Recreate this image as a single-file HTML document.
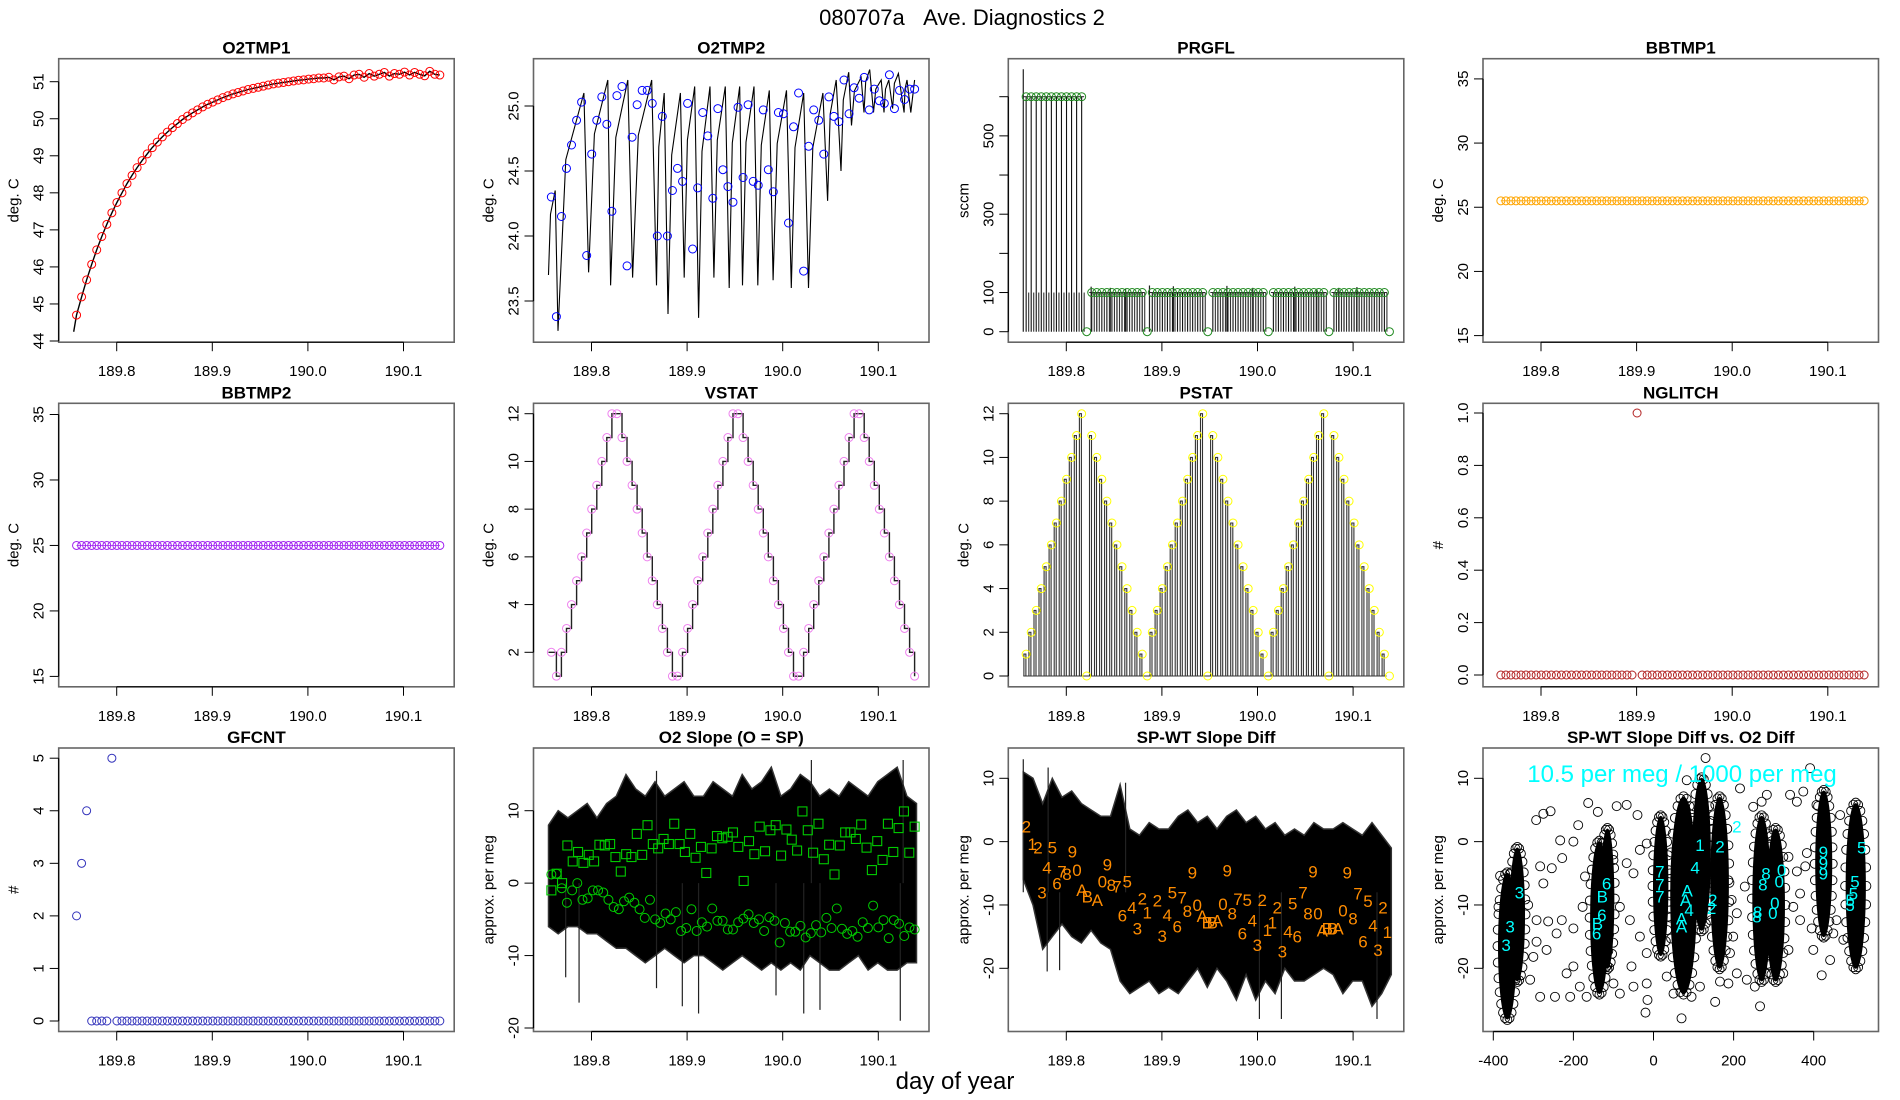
<!DOCTYPE html>
<html><head><meta charset="utf-8"><title>080707a Ave. Diagnostics 2</title>
<style>
html,body{margin:0;padding:0;background:#fff;}
svg{display:block;font-family:"Liberation Sans",Arial,sans-serif;}
</style></head>
<body>
<svg id="chart" width="1900" height="1100" viewBox="0 0 1900 1100" xmlns="http://www.w3.org/2000/svg">
<rect x="0" y="0" width="1900" height="1100" fill="#fff"/>
<text x="962" y="25" font-size="22" text-anchor="middle">080707a&#160;&#160;&#160;Ave. Diagnostics 2</text>
<text x="955" y="1089" font-size="24" text-anchor="middle">day of year</text>
</svg>
<script>
// ---------- shared time axis ----------
const T0 = 189.758, T1 = 190.138, NPTS = 73;
const timeTicks = [189.8, 189.9, 190.0, 190.1];
const timeTickLabels = ["189.8", "189.9", "190.0", "190.1"];

// ---------- O2TMP1 ----------
const o2tmp1Values = [44.70,45.19,45.65,46.07,46.46,46.82,47.15,47.46,47.74,48.00,48.25,48.47,48.68,48.87,49.05,49.22,49.37,49.51,49.64,49.76,49.87,49.98,50.07,50.16,50.24,50.32,50.39,50.45,50.51,50.57,50.62,50.67,50.71,50.75,50.79,50.82,50.85,50.88,50.91,50.94,50.96,50.98,51.00,51.02,51.04,51.05,51.07,51.08,51.10,51.10,51.12,51.05,51.13,51.15,51.08,51.18,51.20,51.12,51.22,51.15,51.20,51.25,51.15,51.22,51.20,51.26,51.18,51.25,51.20,51.16,51.28,51.20,51.18];
const o2tmp1Ticks = [44,45,46,47,48,49,50,51];

// ---------- O2TMP2 ----------
const o2tmp2Values = [24.30,23.38,24.15,24.52,24.70,24.89,25.03,23.85,24.63,24.89,25.07,24.86,24.19,25.08,25.15,23.77,24.76,25.01,25.12,25.12,25.02,24.00,24.92,24.00,24.35,24.52,24.42,25.02,23.90,24.37,24.95,24.77,24.29,24.98,24.51,24.38,24.26,24.99,24.45,25.01,24.42,24.39,24.97,24.51,24.34,24.95,24.94,24.10,24.84,25.10,23.73,24.69,24.97,24.89,24.63,25.07,24.92,24.88,25.20,24.94,25.14,25.06,25.22,24.97,25.13,25.04,25.02,25.24,24.98,25.12,25.05,25.13,25.13];
const o2tmp2PeakT = [189.762,189.792,189.817,189.838,189.863,189.876,189.893,189.908,189.924,189.940,189.955,189.970,189.986,190.004,190.022,190.042,190.056,190.069,190.082,190.091,190.103,190.111,190.121,190.130];
const o2tmp2PeakV = [24.35,25.10,25.20,25.20,25.20,25.10,25.10,25.15,25.15,25.15,25.15,25.15,25.12,25.12,25.10,25.10,25.20,25.26,25.22,25.28,25.20,25.20,25.25,25.20];
const o2tmp2TroughT = [189.765,189.797,189.820,189.843,189.868,189.880,189.897,189.912,189.928,189.944,189.958,189.974,189.990,190.009,190.027,190.047,190.061,190.072,190.085,190.095,190.106,190.115,190.127,190.134];
const o2tmp2TroughV = [23.27,23.72,23.62,23.68,23.62,23.40,23.68,23.37,23.68,23.60,23.62,23.62,23.66,23.60,23.60,24.27,24.50,24.85,24.95,24.95,24.95,24.98,24.95,24.95];
const o2tmp2Ticks = [23.5,24.0,24.5,25.0];
const o2tmp2TickLabels = ["23.5","24.0","24.5","25.0"];

// ---------- PRGFL ----------
const prgflValues = [600,600,600,600,600,600,600,600,600,600,600,600,0,100,100,100,100,100,100,100,100,100,100,100,0,100,100,100,100,100,100,100,100,100,100,100,0,100,100,100,100,100,100,100,100,100,100,100,0,100,100,100,100,100,100,100,100,100,100,100,0,100,100,100,100,100,100,100,100,100,100,100,0];
const prgflSpikeT = [189.755,189.826,189.846,189.862,189.887,189.912,189.968,189.995,190.039,190.062,190.085,190.104];
const prgflSpikeV = [670,115,112,110,118,116,117,112,115,110,112,114];
const prgflTicks = [0,100,200,300,400,500,600];
const prgflTickLabels = ["0","100","","300","","500",""];

// ---------- BBTMP1 / BBTMP2 ----------
const bbtmp1Values = new Array(NPTS).fill(25.5);
const bbtmp2Values = new Array(NPTS).fill(25.0);
const bbTicks = [15,20,25,30,35];

// ---------- VSTAT ----------
const vstatValues = [2,1,2,3,4,5,6,7,8,9,10,11,12,12,11,10,9,8,7,6,5,4,3,2,1,1,2,3,4,5,6,7,8,9,10,11,12,12,11,10,9,8,7,6,5,4,3,2,1,1,2,3,4,5,6,7,8,9,10,11,12,12,11,10,9,8,7,6,5,4,3,2,1];
const vstatTicks = [2,4,6,8,10,12];

// ---------- PSTAT ----------
const pstatValues = [1,2,3,4,5,6,7,8,9,10,11,12,0,11,10,9,8,7,6,5,4,3,2,1,0,2,3,4,5,6,7,8,9,10,11,12,0,11,10,9,8,7,6,5,4,3,2,1,0,2,3,4,5,6,7,8,9,10,11,12,0,11,10,9,8,7,6,5,4,3,2,1,0];
const pstatTicks = [0,2,4,6,8,10,12];

// ---------- NGLITCH ----------
const nglitchValues = [0,0,0,0,0,0,0,0,0,0,0,0,0,0,0,0,0,0,0,0,0,0,0,0,0,0,0,1,0,0,0,0,0,0,0,0,0,0,0,0,0,0,0,0,0,0,0,0,0,0,0,0,0,0,0,0,0,0,0,0,0,0,0,0,0,0,0,0,0,0,0,0,0];
const nglitchTicks = [0,0.2,0.4,0.6,0.8,1.0];
const nglitchTickLabels = ["0.0","0.2","0.4","0.6","0.8","1.0"];

// ---------- GFCNT ----------
const gfcntValues = [2,3,4,0,0,0,0,5,0,0,0,0,0,0,0,0,0,0,0,0,0,0,0,0,0,0,0,0,0,0,0,0,0,0,0,0,0,0,0,0,0,0,0,0,0,0,0,0,0,0,0,0,0,0,0,0,0,0,0,0,0,0,0,0,0,0,0,0,0,0,0,0,0];
const gfcntTicks = [0,1,2,3,4,5];

// ---------- O2 Slope ----------
const bandT0 = 189.755, bandT1 = 190.14;
const o2slopeUpper = [8,10,9,10,11,9,11,12,15,13,12,14,12,13,14,12,12,14,13,12,15,13,14,16,12,13,15,14,12,13,12,14,13,12,14,15,16,12,11];
const o2slopeLower = [-6,-7,-6,-6,-7,-7,-8,-9,-9,-10,-11,-10,-9,-10,-11,-10,-10,-11,-12,-11,-10,-11,-12,-11,-12,-11,-12,-10,-11,-12,-12,-11,-10,-12,-11,-12,-12,-11,-11];
const o2slopeSpikeT = [189.773,189.787,189.868,189.895,189.912,190.022,190.039,190.123,189.993,190.030,190.126,189.868];
const o2slopeSpikeV = [-13,-16.5,-14.5,-17,-18,-18,-17.5,-19,-15.5,17,17,15.5];
const o2slopeSquares = [-1,1.3,0,5.2,3,4.3,2.8,3.9,3,5.3,5.2,5.4,3.6,1.6,4,3.6,6.8,3.9,8,5.4,4.8,6.1,5.4,8.2,5.4,4.3,6.8,3.5,5,1.4,4.8,6.5,6.2,6.4,7,5,0.3,5.8,4,7.8,4.4,7.3,8,3.8,7.4,6,4.5,9.9,7.3,4.2,8.2,3.3,5.3,1.2,5.2,7,7,6.1,8.1,4.9,1.8,5.8,3.2,8.2,4.3,7.6,9.9,4.2,7.8];
const o2slopeCircles = [1.2,1.3,-0.7,-2.7,-1,0,-2.3,-2.1,-1,-1,-1.3,-2.3,-3.3,-3.6,-2.5,-2,-2.7,-3.6,-4.8,-2.3,-5,-5.5,-4.2,-5,-4,-6.6,-6.2,-3.6,-6.6,-5.4,-6,-3.5,-5.2,-5.2,-6.4,-6.4,-5.4,-4.9,-4.3,-5.5,-5,-6.6,-4.7,-5.2,-8.2,-5.5,-6.7,-6.7,-5.9,-7.5,-6.9,-5.8,-6.8,-4.8,-6.2,-3.5,-6.3,-7,-6.6,-7.4,-5.4,-6.2,-3.1,-6.1,-5.1,-7.6,-5.1,-5.6,-7.3,-6.1,-6.4];
const slopeTicks = [-20,-10,0,10];

// ---------- SP-WT Slope Diff ----------
const spwtUpper = [11,10,6,10,7,8,6,5,4,4,9,2,1,3,2,2,4,5,3,4,2,4,5,3,4,2,3,1,2,1,3,2,2,3,2,1,3,1,-1];
const spwtLower = [-6,-10,-17,-15,-13,-15,-16,-14,-16,-17,-22,-24,-23,-22,-24,-23,-24,-22,-20,-23,-20,-22,-25,-21,-25,-22,-24,-20,-22,-22,-21,-20,-21,-24,-22,-22,-26,-24,-21];
const spwtSpikeT = [189.755,189.780,189.793,189.781,189.862,190.002,190.025,190.125];
const spwtSpikeV = [13,-20.5,-20.3,11.7,9.3,-28,-28,-28];
const spwtLabelT = [189.7582,189.7644,189.7704,189.7854,189.7798,189.7745,189.7902,189.7955,189.8007,189.8063,189.8112,189.8164,189.822,189.8324,189.8429,189.8377,189.8471,189.853,189.8638,189.8586,189.8687,189.8743,189.8795,189.8847,189.8952,189.9004,189.9056,189.9109,189.9161,189.9213,189.9266,189.9318,189.937,189.9423,189.9475,189.9527,189.958,189.9639,189.9684,189.9736,189.9796,189.9841,189.9893,189.9946,189.9998,190.005,190.0103,190.0155,190.0207,190.026,190.0368,190.0319,190.0416,190.0476,190.058,190.0528,190.0633,190.0678,190.073,190.0782,190.0842,190.0894,190.0939,190.0999,190.1051,190.1103,190.1156,190.1208,190.126,190.1312,190.1358];
const spwtLabelV = [2.37,-0.37,-0.9,-0.9,-4.06,-8.0,-6.58,-4.73,-5.1,-1.58,-4.48,-7.63,-8.69,-9.21,-3.58,-6.31,-6.84,-7.1,-6.31,-11.69,-10.43,-13.69,-8.95,-11.22,-9.32,-14.9,-11.58,-8.05,-13.43,-8.79,-10.95,-4.9,-10.0,-11.74,-12.74,-12.74,-12.48,-9.84,-4.58,-11.32,-9.05,-14.48,-9.21,-12.48,-16.32,-9.21,-13.95,-12.74,-10.43,-17.38,-9.74,-14.22,-15.0,-8.05,-4.74,-11.32,-11.32,-14.06,-13.69,-13.69,-13.69,-10.9,-4.9,-12.11,-8.16,-15.8,-9.37,-13.27,-17.11,-10.37,-14.27];
const spwtLabelText = ["2","1","2","5","4","3","6","7","8","9","0","A","B","A","9","0","8","7","5","6","4","3","2","1","2","3","4","5","6","7","8","9","0","A","B","B","A","0","9","8","7","6","5","4","3","2","1","1","2","3","5","4","6","7","9","8","0","A","B","B","A","0","9","8","7","6","5","4","3","2","1"];

// ---------- Scatter: SP-WT Slope Diff vs O2 Diff ----------
const scatterXTicks = [-400,-200,0,200,400];
const clusterX = [-365,-340,-135,-115,18,75,120,165,270,305,425,505];
const clusterTop = [-5,-1,0,2,4,7,10,7,4,2,8,6];
const clusterBottom = [-28,-22,-24,-20,-18,-24,-14,-20,-22,-22,-15,-20];
const clusterHalfWidth = [22,18,22,16,18,32,22,22,22,22,20,24];
const sparseX = [-293,-275,-257,-163,-139,-92,-67,-40,-188,-233,-200,-228,-283,-254,-275,-383,-387,-313,-292,-263,-229,-200,-267,-242,-292,-300,-308,-283,-246,-208,-184,-217,-200,-167,-100,-84,-50,-17,-20,-15,-55,-17,-34,-59,-84,-50,-17,-34,-67,-171,-177,-100,130,83,216,249,270,283,341,358,391,374,407,466,337,358,379,383,366,349,366,399,337,441,420,449,324,266,253,154,166,187,208,233,191,199,208,228,187,195,116,70,95,50,33,474,457,395];
const sparseY = [3.4,4.4,4.8,6.1,4.7,5.6,5.8,4.2,2.6,0.2,0,-2.6,-3.9,-4.2,-6.6,-5.4,-10.3,-10,-12.4,-12.6,-12.4,-13.7,-17.1,-14.5,-15.8,-18.2,-21.8,-24.5,-24.5,-24.5,-22.9,-20.8,-19.7,-24.5,-22.4,-24,-22.9,-22.4,-27,-25,-19.7,-17.6,-15,-12.4,-10.3,-5,-0.3,-1.3,-3.4,-5.5,-10.3,-2.9,13.2,9.7,8.4,5.5,6.3,7.4,7.4,6.3,11.6,7.9,5.8,4.2,-2.4,-4.7,-3.9,-1.8,-8.2,-10.3,-12.4,-17.1,-17.1,-18.7,-21.1,-14.5,-20.8,-26,-22.9,-25.3,-22.1,-22.4,-20.8,-21.8,-17.6,-15,-11.3,-7.1,-6.1,-9.2,-22.9,-27.9,-24.5,-24,-21.3,-15.5,-12.4,-13.7];
const cyanX = [-335,-358,-368,-117,-128,-129,-140,-142,16,16,16,84,80,89,70,70,116,104,166,148,145,208,281,273,320,314,303,298,260,258,424,424,424,520,503,499,491,491];
const cyanY = [-8.0,-13.4,-16.3,-6.6,-8.7,-11.6,-12.9,-14.5,-4.7,-6.8,-8.7,-7.7,-9.2,-10.8,-12.1,-13.4,-0.5,-4.1,-0.8,-9.2,-10.5,2.4,-5.0,-6.8,-4.5,-6.3,-9.7,-11.3,-11.1,-11.8,-1.6,-3.4,-5.0,-0.9,-6.3,-8.2,-9.2,-10.0];
const cyanText = ["3","3","3","6","B","6","B","6","7","7","7","A","A","4","A","A","1","4","2","2","2","2","8","8","0","0","0","0","8","8","9","9","9","5","5","5","5","5"];

// ---------- layout ----------
const NS = "http://www.w3.org/2000/svg";
const svg = document.getElementById("chart");
const COLS = [58.7, 533.5, 1008.3, 1483];
const ROWS = [58.7, 403.3, 748];
const BW = 395.5, BH = 283.5;

function el(tag, attrs, parent, name) {
  const e = document.createElementNS(NS, tag);
  for (const k in attrs) e.setAttribute(k, attrs[k]);
  
  
  (parent || svg).appendChild(e);
  return e;
}
function timeOf(i, n) { return T0 + i * (T1 - T0) / ((n || NPTS) - 1); }

function makePanel(id, col, row, title, ytitle, v1, p1, v2, p2) {
  const L = COLS[col], T = ROWS[row];
  const g = el('g', {}, svg, id + '-panel');
  const xs = t => L + 58 + (t - 189.8) * 956;
  const ys = v => p1 + (v - v1) * (p2 - p1) / (v2 - v1);
  el('rect', {x: L, y: T, width: BW, height: BH, fill: 'none', stroke: '#666', 'stroke-width': 1.6}, g, id + '-plot-frame');
  const tt = el('text', {x: L + BW / 2, y: T - 5, 'font-size': 17, 'font-weight': 'bold', 'text-anchor': 'middle'}, g, id + '-title');
  tt.textContent = title;
  const yt = el('text', {x: 0, y: 0, 'font-size': 15, 'text-anchor': 'middle', transform: `translate(${L - 40},${T + BH / 2}) rotate(-90)`}, g, id + '-y-axis-title');
  yt.textContent = ytitle;
  const plot = el('g', {}, g, id + '-plot-area');
  return {g, plot, L, T, xs, ys};
}
function xAxis(P, ticks, labels, xs) {
  const y0 = P.T + BH;
  const ax = el('g', {}, P.g, 'x-axis');
  el('line', {x1: xs(ticks[0]), x2: xs(ticks[ticks.length - 1]), y1: y0, y2: y0, stroke: '#000', 'stroke-width': 1.2}, ax, 'x-axis-line');
  ticks.forEach((t, i) => {
    el('line', {x1: xs(t), x2: xs(t), y1: y0, y2: y0 + 9, stroke: '#000', 'stroke-width': 1}, ax, 'x-tick');
    const tx = el('text', {x: xs(t), y: y0 + 34, 'font-size': 15, 'text-anchor': 'middle'}, ax, 'x-tick-label');
    tx.textContent = labels[i];
  });
}
function yAxis(P, ticks, labels) {
  const x0 = P.L;
  const ax = el('g', {}, P.g, 'y-axis');
  el('line', {x1: x0, x2: x0, y1: P.ys(ticks[0]), y2: P.ys(ticks[ticks.length - 1]), stroke: '#000', 'stroke-width': 1.2}, ax, 'y-axis-line');
  ticks.forEach((v, i) => {
    el('line', {x1: x0 - 9, x2: x0, y1: P.ys(v), y2: P.ys(v), stroke: '#000', 'stroke-width': 1}, ax, 'y-tick');
    if (labels[i] !== "") {
      const tx = el('text', {x: 0, y: 0, 'font-size': 15, 'text-anchor': 'middle', transform: `translate(${x0 - 15},${P.ys(v)}) rotate(-90)`}, ax, 'y-tick-label');
      tx.textContent = labels[i];
    }
  });
}
function circles(P, xsArr, vals, color, name, r) {
  vals.forEach((v, i) => {
    el('circle', {cx: P.xs(xsArr[i]), cy: P.ys(v), r: r || 4, fill: 'none', stroke: color, 'stroke-width': 1}, P.plot, name);
  });
}
function polyline(P, xsArr, vals, color, name, w) {
  const pts = vals.map((v, i) => P.xs(xsArr[i]).toFixed(1) + ',' + P.ys(v).toFixed(1)).join(' ');
  el('polyline', {points: pts, fill: 'none', stroke: color, 'stroke-width': w || 1}, P.plot, name);
}
function timeArr(n) { const a = []; for (let i = 0; i < n; i++) a.push(timeOf(i, n)); return a; }
function band(P, upper, lower, name) {
  const n = upper.length;
  const tx = i => bandT0 + i * (bandT1 - bandT0) / (n - 1);
  let d = '';
  for (let i = 0; i < n; i++) d += (i ? 'L' : 'M') + P.xs(tx(i)).toFixed(1) + ',' + P.ys(upper[i]).toFixed(1);
  for (let i = n - 1; i >= 0; i--) d += 'L' + P.xs(tx(i)).toFixed(1) + ',' + P.ys(lower[i]).toFixed(1);
  el('path', {d: d + 'Z', fill: '#000', stroke: '#333', 'stroke-width': 1.5, 'stroke-linejoin': 'miter'}, P.plot, name);
}
function spikes(P, ts, vs, base, name) {
  ts.forEach((t, i) => {
    el('line', {x1: P.xs(t), x2: P.xs(t), y1: P.ys(base), y2: P.ys(vs[i]), stroke: '#222', 'stroke-width': 1.2}, P.plot, name);
  });
}
const TA = timeArr(NPTS);

// 1 O2TMP1
(function () {
  const P = makePanel('o2tmp1', 0, 0, 'O2TMP1', 'deg. C', 44, 341, 51, 81.7);
  xAxis(P, timeTicks, timeTickLabels, P.xs);
  yAxis(P, o2tmp1Ticks, o2tmp1Ticks.map(String));
  polyline(P, [189.755].concat(TA), [44.25].concat(o2tmp1Values), '#000', 'o2tmp1-line', 1.4);
  circles(P, TA, o2tmp1Values, '#ff0000', 'o2tmp1-point');
})();

// 2 O2TMP2
(function () {
  const P = makePanel('o2tmp2', 1, 0, 'O2TMP2', 'deg. C', 25.0, 106, 23.5, 301);
  xAxis(P, timeTicks, timeTickLabels, P.xs);
  yAxis(P, o2tmp2Ticks, o2tmp2TickLabels);
  let d = 'M' + P.xs(189.755) + ',' + P.ys(23.7);
  let prevT = 189.755, prevV = 23.7;
  for (let i = 0; i < o2tmp2PeakT.length; i++) {
    const pt = o2tmp2PeakT[i], pv = o2tmp2PeakV[i];
    const mt = prevT + (pt - prevT) * 0.3, mv = prevV + (pv - prevV) * 0.72;
    d += 'L' + P.xs(mt).toFixed(1) + ',' + P.ys(mv).toFixed(1);
    d += 'L' + P.xs(pt).toFixed(1) + ',' + P.ys(pv).toFixed(1);
    d += 'L' + P.xs(o2tmp2TroughT[i]).toFixed(1) + ',' + P.ys(o2tmp2TroughV[i]).toFixed(1);
    prevT = o2tmp2TroughT[i]; prevV = o2tmp2TroughV[i];
  }
  d += 'L' + P.xs(190.138).toFixed(1) + ',' + P.ys(25.2).toFixed(1);
  el('path', {d: d, fill: 'none', stroke: '#000', 'stroke-width': 1.1}, P.plot, 'o2tmp2-line');
  circles(P, TA, o2tmp2Values, '#0000ff', 'o2tmp2-point');
})();

// 3 PRGFL
(function () {
  const P = makePanel('prgfl', 2, 0, 'PRGFL', 'sccm', 0, 331.7, 600, 96.7);
  xAxis(P, timeTicks, timeTickLabels, P.xs);
  yAxis(P, prgflTicks, prgflTickLabels);
  const dt = (T1 - T0) / (NPTS - 1);
  prgflValues.forEach((v, i) => {
    if (v > 0) {
      el('line', {x1: P.xs(TA[i]), x2: P.xs(TA[i]), y1: P.ys(0), y2: P.ys(v), stroke: '#111', 'stroke-width': 1.1}, P.plot, 'prgfl-drop-line');
      el('line', {x1: P.xs(TA[i] + dt / 2), x2: P.xs(TA[i] + dt / 2), y1: P.ys(0), y2: P.ys(100), stroke: '#333', 'stroke-width': 1.1}, P.plot, 'prgfl-drop-line');
      el('line', {x1: P.xs(TA[i] - dt / 2), x2: P.xs(TA[i] + dt / 2), y1: P.ys(v === 600 ? 600 : 100), y2: P.ys(v === 600 ? 600 : 100), stroke: '#222', 'stroke-width': 1}, P.plot, 'prgfl-step');
    }
  });
  spikes(P, prgflSpikeT, prgflSpikeV, 0, 'prgfl-spike');
  circles(P, TA, prgflValues, '#228b22', 'prgfl-point');
})();

// 4 BBTMP1
(function () {
  const P = makePanel('bbtmp1', 3, 0, 'BBTMP1', 'deg. C', 15, 335.6, 35, 78.9);
  xAxis(P, timeTicks, timeTickLabels, P.xs);
  yAxis(P, bbTicks, bbTicks.map(String));
  polyline(P, TA, bbtmp1Values, '#ffa500', 'bbtmp1-line', 0.8);
  circles(P, TA, bbtmp1Values, '#ffa500', 'bbtmp1-point');
})();

// 5 BBTMP2
(function () {
  const P = makePanel('bbtmp2', 0, 1, 'BBTMP2', 'deg. C', 15, 676.4, 35, 414.5);
  xAxis(P, timeTicks, timeTickLabels, P.xs);
  yAxis(P, bbTicks, bbTicks.map(String));
  polyline(P, TA, bbtmp2Values, '#a020f0', 'bbtmp2-line', 0.8);
  circles(P, TA, bbtmp2Values, '#a020f0', 'bbtmp2-point');
})();

// 6 VSTAT
(function () {
  const P = makePanel('vstat', 1, 1, 'VSTAT', 'deg. C', 12, 413.7, 2, 652.3);
  xAxis(P, timeTicks, timeTickLabels, P.xs);
  yAxis(P, vstatTicks, vstatTicks.map(String));
  let d = 'M' + P.xs(189.755).toFixed(1) + ',' + P.ys(vstatValues[0]).toFixed(1);
  vstatValues.forEach((v, i) => {
    d += 'H' + P.xs(TA[i]).toFixed(1) + 'V' + P.ys(v).toFixed(1);
  });
  el('path', {d: d, fill: 'none', stroke: '#222', 'stroke-width': 1.4}, P.plot, 'vstat-step-line');
  circles(P, TA, vstatValues, '#ee82ee', 'vstat-point');
})();

// 7 PSTAT
(function () {
  const P = makePanel('pstat', 2, 1, 'PSTAT', 'deg. C', 12, 413.7, 0, 676);
  xAxis(P, timeTicks, timeTickLabels, P.xs);
  yAxis(P, pstatTicks, pstatTicks.map(String));
  const dt = (T1 - T0) / (NPTS - 1);
  pstatValues.forEach((v, i) => {
    if (v > 0) {
      const xa = P.xs(TA[i] - dt * 0.45), xb = P.xs(TA[i] - dt * 0.05);
      el('path', {d: `M${xa.toFixed(1)},${P.ys(0)}V${P.ys(v).toFixed(1)}H${xb.toFixed(1)}V${P.ys(0)}`, fill: 'none', stroke: '#333', 'stroke-width': 1.1}, P.plot, 'pstat-bar');
    }
  });
  el('line', {x1: P.xs(189.755), x2: P.xs(190.135), y1: P.ys(0), y2: P.ys(0), stroke: '#333', 'stroke-width': 1}, P.plot, 'pstat-baseline');
  circles(P, TA, pstatValues, '#ffff00', 'pstat-point');
})();

// 8 NGLITCH
(function () {
  const P = makePanel('nglitch', 3, 1, 'NGLITCH', '#', 0, 675, 1, 413);
  xAxis(P, timeTicks, timeTickLabels, P.xs);
  yAxis(P, nglitchTicks, nglitchTickLabels);
  circles(P, TA, nglitchValues, '#b22222', 'nglitch-point');
})();

// 9 GFCNT
(function () {
  const P = makePanel('gfcnt', 0, 2, 'GFCNT', '#', 0, 1021, 5, 758.2);
  xAxis(P, timeTicks, timeTickLabels, P.xs);
  yAxis(P, gfcntTicks, gfcntTicks.map(String));
  circles(P, TA, gfcntValues, '#3333bb', 'gfcnt-point');
})();

// 10 O2 Slope
(function () {
  const P = makePanel('o2slope', 1, 2, 'O2 Slope (O = SP)', 'approx. per meg', 10, 810.7, -20, 1028);
  xAxis(P, timeTicks, timeTickLabels, P.xs);
  yAxis(P, slopeTicks, slopeTicks.map(String));
  band(P, o2slopeUpper, o2slopeLower, 'o2slope-band');
  spikes(P, o2slopeSpikeT, o2slopeSpikeV, 0, 'o2slope-spike');
  const ts = timeArr(o2slopeSquares.length);
  o2slopeSquares.forEach((v, i) => {
    el('rect', {x: P.xs(ts[i]) - 4.5, y: P.ys(v) - 4.5, width: 9, height: 9, fill: 'none', stroke: '#00cc00', 'stroke-width': 1.1}, P.plot, 'o2slope-sp-square');
  });
  circles(P, timeArr(o2slopeCircles.length), o2slopeCircles, '#00cc00', 'o2slope-wt-circle', 4.5);
})();

// 11 SP-WT Slope Diff
(function () {
  const P = makePanel('spwt', 2, 2, 'SP-WT Slope Diff', 'approx. per meg', 10, 778.3, -20, 968.3);
  xAxis(P, timeTicks, timeTickLabels, P.xs);
  yAxis(P, slopeTicks, slopeTicks.map(String));
  band(P, spwtUpper, spwtLower, 'spwt-band');
  spikes(P, spwtSpikeT, spwtSpikeV, -8, 'spwt-spike');
  spwtLabelT.forEach((t, i) => {
    const tx = el('text', {x: P.xs(t), y: P.ys(spwtLabelV[i]) + 6, 'font-size': 17, fill: '#ff8c00', 'text-anchor': 'middle'}, P.plot, 'spwt-cycle-label');
    tx.textContent = spwtLabelText[i];
  });
})();

// 12 Scatter
(function () {
  const P = makePanel('scatter', 3, 2, 'SP-WT Slope Diff vs. O2 Diff', 'approx. per meg', 10, 778.3, -20, 968.3);
  const xsS = v => 1653.5 + v * 0.4005;
  xAxis(P, scatterXTicks, scatterXTicks.map(String), xsS);
  yAxis(P, slopeTicks, slopeTicks.map(String));
  sparseX.forEach((x, i) => {
    el('circle', {cx: xsS(x), cy: P.ys(sparseY[i]), r: 4.5, fill: 'none', stroke: '#000', 'stroke-width': 0.9}, P.plot, 'scatter-point');
  });
  clusterX.forEach((x, i) => {
    const cx = xsS(x);
    const cy = (P.ys(clusterTop[i]) + P.ys(clusterBottom[i])) / 2;
    const ry = (P.ys(clusterBottom[i]) - P.ys(clusterTop[i])) / 2;
    const rx = clusterHalfWidth[i] * 0.4005;
    el('ellipse', {cx: cx, cy: cy, rx: rx, ry: ry, fill: '#000', stroke: '#000', 'stroke-width': 1}, P.plot, 'scatter-cluster');
    for (let k = 0; k < 28; k++) {
      const a = k / 28 * Math.PI * 2;
      el('circle', {cx: cx + Math.cos(a) * (rx + 1), cy: cy + Math.sin(a) * (ry + 1), r: 4.5, fill: 'none', stroke: '#000', 'stroke-width': 0.9}, P.plot, 'scatter-cluster-edge-point');
    }
  });
  cyanX.forEach((x, i) => {
    const tx = el('text', {x: xsS(x), y: P.ys(cyanY[i]) + 6, 'font-size': 17, fill: '#00ffff', 'text-anchor': 'middle'}, P.plot, 'scatter-cycle-label');
    tx.textContent = cyanText[i];
  });
  const ann = el('text', {x: 1682, y: 782, 'font-size': 24, fill: '#00ffff', 'text-anchor': 'middle'}, P.plot, 'slope-annotation');
  ann.textContent = '10.5 per meg / 1000 per meg';
})();
</script>
</body></html>
